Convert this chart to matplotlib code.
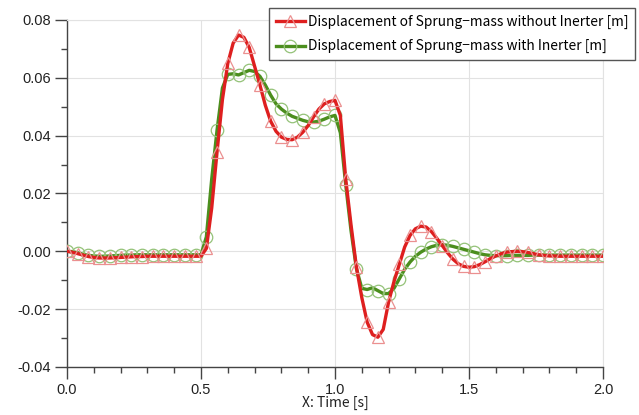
import numpy as np
import matplotlib
matplotlib.use("Agg")
import matplotlib.pyplot as plt
from matplotlib.ticker import MultipleLocator, FormatStrFormatter

# time base (s), sampled every 0.02 s
t = np.round(np.arange(0, 2.0001, 0.02), 2)

# Displacement of sprung mass without inerter [m]
disp_without = [
    0.0000, -0.0003, -0.0008, -0.0013, -0.0018, -0.0021, -0.0023, -0.0023, -0.0023, -0.0022,
    -0.0021, -0.0020, -0.0019, -0.0018, -0.0018, -0.0017, -0.0017, -0.0017, -0.0017, -0.0017,
    -0.0017, -0.0017, -0.0017, -0.0017, -0.0017, -0.0017, 0.0010, 0.0150, 0.0345, 0.0525,
    0.0650, 0.0720, 0.0748, 0.0740, 0.0705, 0.0640, 0.0575, 0.0505, 0.0450, 0.0415,
    0.0395, 0.0387, 0.0386, 0.0395, 0.0412, 0.0435, 0.0465, 0.0492, 0.0510, 0.0518,
    0.0522, 0.0470, 0.0250, 0.0090, -0.0055, -0.0160, -0.0245, -0.0288, -0.0297, -0.0270,
    -0.0175, -0.0105, -0.0045, 0.0015, 0.0055, 0.0078, 0.0087, 0.0084, 0.0068, 0.0045,
    0.0020, -0.0005, -0.0027, -0.0043, -0.0052, -0.0055, -0.0053, -0.0046, -0.0036, -0.0025,
    -0.0016, -0.0008, -0.0003, -0.0001, 0.0000, -0.0001, -0.0004, -0.0008, -0.0012, -0.0014,
    -0.0016, -0.0016, -0.0017, -0.0017, -0.0017, -0.0017, -0.0017, -0.0017, -0.0017, -0.0017,
    -0.0017,
]

# Displacement of sprung mass with inerter [m]
disp_with = [
    0.0000, -0.0001, -0.0005, -0.0010, -0.0014, -0.0016, -0.0017, -0.0017, -0.0016, -0.0015,
    -0.0014, -0.0013, -0.0013, -0.0012, -0.0012, -0.0012, -0.0012, -0.0012, -0.0012, -0.0012,
    -0.0012, -0.0012, -0.0012, -0.0012, -0.0012, -0.0012, 0.0050, 0.0250, 0.0420, 0.0565,
    0.0612, 0.0614, 0.0610, 0.0618, 0.0626, 0.0622, 0.0605, 0.0575, 0.0540, 0.0510,
    0.0492, 0.0478, 0.0467, 0.0460, 0.0453, 0.0448, 0.0447, 0.0450, 0.0457, 0.0465,
    0.0470, 0.0410, 0.0230, 0.0070, -0.0060, -0.0128, -0.0132, -0.0126, -0.0136, -0.0146,
    -0.0146, -0.0128, -0.0095, -0.0062, -0.0037, -0.0017, -0.0003, 0.0008, 0.0016, 0.0021,
    0.0023, 0.0021, 0.0017, 0.0012, 0.0007, 0.0002, -0.0003, -0.0008, -0.0012, -0.0014,
    -0.0015, -0.0015, -0.0015, -0.0014, -0.0014, -0.0014, -0.0014, -0.0013, -0.0013, -0.0013,
    -0.0013, -0.0013, -0.0013, -0.0013, -0.0013, -0.0013, -0.0013, -0.0013, -0.0013, -0.0013,
    -0.0013,
]

labels = ["Displacement of Sprung\u2212mass without Inerter [m]",
          "Displacement of Sprung\u2212mass with Inerter [m]"]

plt.rcParams['font.family'] = ['Liberation Sans', 'DejaVu Sans']
jp_font = ['Noto Sans CJK JP', 'DejaVu Sans']

fig = plt.figure(figsize=(6.39, 4.15), dpi=100)
ax = fig.add_axes([67/639, 1 - 367/415, 536/639, 347/415])

grid_c = '#e2e2e2'
line_g, = ax.plot(t, disp_with, color='#4b8e1d', lw=2.4, marker='o', markevery=2,
                  ms=9, mfc='none', mec='#94c278', mew=0.9, zorder=3)
line_r, = ax.plot(t, disp_without, color='#de1f1f', lw=2.4, marker='^', markevery=2,
                  ms=9, mfc='none', mec='#eb9090', mew=0.9, zorder=4)

ax.set_xlim(0, 2.0)
ax.set_ylim(-0.04, 0.08)
ax.xaxis.set_major_locator(MultipleLocator(0.5))
ax.xaxis.set_minor_locator(MultipleLocator(0.1))
ax.yaxis.set_major_locator(MultipleLocator(0.02))
ax.yaxis.set_minor_locator(MultipleLocator(0.01))
ax.xaxis.set_major_formatter(FormatStrFormatter('%.1f'))
ax.yaxis.set_major_formatter(FormatStrFormatter('%.2f'))

ax.grid(True, which='major', color=grid_c, lw=0.8)
ax.set_axisbelow(True)
for s in ('top', 'right'):
    ax.spines[s].set_color(grid_c)
for s in ('left', 'bottom'):
    ax.spines[s].set_color('#444444')
    ax.spines[s].set_linewidth(1.0)

ax.tick_params(which='major', direction='out', length=8.5, width=1.0, color='#444444',
               labelsize=10.5, labelcolor='#222222', pad=3)
ax.tick_params(which='minor', direction='out', length=4, width=1.0, color='#444444')

ax.set_xlabel('X: Time [s]', fontsize=10, family=jp_font, color='#222222', labelpad=-1)

leg = fig.legend([line_r, line_g], labels, loc='upper right',
                 bbox_to_anchor=(635/639, 1 - 8/415), borderaxespad=0,
                 prop={'family': jp_font, 'size': 9.9},
                 fancybox=False, framealpha=1, edgecolor='#555555',
                 handlelength=2.1, handletextpad=0.2, labelspacing=0.75,
                 borderpad=0.5)
leg.get_frame().set_linewidth(1.0)

fig.savefig('out.png', dpi=100)
